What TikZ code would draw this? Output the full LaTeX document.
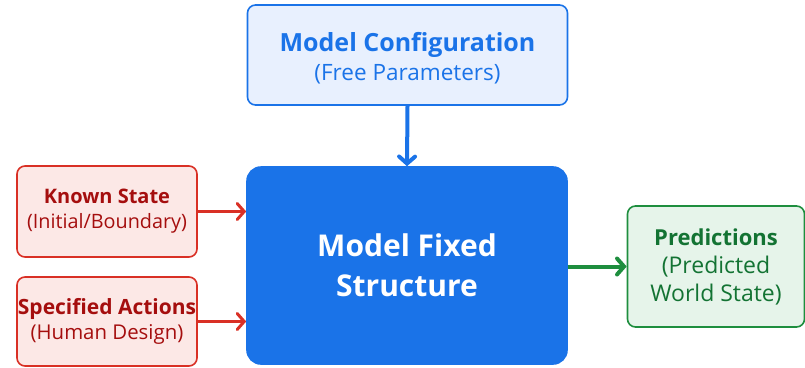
\documentclass[tikz,border=0pt]{standalone}
\usepackage{fontspec}
\setmainfont{Open Sans}
\usetikzlibrary{arrows.meta}
\definecolor{blueline}{HTML}{1A73E8}
\definecolor{bluefill}{HTML}{E8F0FE}
\definecolor{redline}{HTML}{D93025}
\definecolor{redfill}{HTML}{FCE8E6}
\definecolor{redtext}{HTML}{A50E0E}
\definecolor{greenline}{HTML}{1E8E3E}
\definecolor{greenfill}{HTML}{E6F4EA}
\definecolor{greentext}{HTML}{137333}
% per-line font sizes, same baseline skip within each box
\newcommand{\fs}[2]{\fontsize{#1}{#2}\selectfont}
\tikzset{
  box/.style={draw, rounded corners=8pt, line width=1.6pt, align=center, inner sep=0pt},
  cfgbox/.style={box, draw=blueline, fill=bluefill, text=blueline},
  corebox/.style={box, draw=blueline, fill=blueline, text=white, rounded corners=14pt},
  inbox/.style={box, draw=redline, fill=redfill, text=redtext},
  outbox/.style={box, draw=greenline, fill=greenfill, text=greentext},
  flow/.style={line width=#1, -{Straight Barb[length=7pt,width=16pt,line cap=round]}},
}
\begin{document}
\begin{tikzpicture}[x=1pt,y=-1pt]
\useasboundingbox (0,0) rectangle (805,367);

\node[cfgbox, minimum width=320pt, minimum height=100pt] (cfg) at (407.5,55) {};
\node[text=blueline, align=center, font=\fs{25}{29}] (cfgtxt) at ([yshift=-3pt]cfg.center)
  {\fs{25}{29}\bfseries Model Configuration\\ \fs{22.5}{29}(Free Parameters)};

\node[corebox, minimum width=320pt, minimum height=197pt] (core) at (407,265.5) {};
\node[text=white, align=center, font=\fs{30}{40}\bfseries] (coretxt) at (core.center)
  {\fs{30}{40}\bfseries Model Fixed\\ \fs{30}{40}\bfseries Structure};

\node[inbox, minimum width=180pt, minimum height=91pt] (known) at (107,211.5) {};
\node[text=redtext, align=center, font=\fs{20}{25}] (knowntxt) at (known.center)
  {\fs{20}{25}\bfseries Known State\\ \fs{19.8}{25}(Initial/Boundary)};

\node[inbox, minimum width=180pt, minimum height=89pt] (acts) at (107,321.5) {};
\node[text=redtext, align=center, font=\fs{21}{25}] (actstxt) at (acts.center)
  {\fs{21}{25}\bfseries Specified Actions\\ \fs{20.4}{25}(Human Design)};

\node[outbox, minimum width=177pt, minimum height=121pt] (pred) at (716,266.5) {};
\node[text=greentext, align=center, font=\fs{22}{28}] (predtxt) at (pred.center)
  {\fs{22}{28}\bfseries Predictions\\ \fs{23}{28}(Predicted\\ \fs{23}{28}World State)};

\draw[flow=4pt, blueline] (cfg.south) -- (core.north);
\draw[flow=3pt, redline] (known.east) -- (known.east -| core.west);
\draw[flow=3pt, redline] (acts.east) -- (acts.east -| core.west);
\draw[flow=4pt, greenline] (core.east |- pred.west) -- (pred.west);
\end{tikzpicture}
\end{document}
